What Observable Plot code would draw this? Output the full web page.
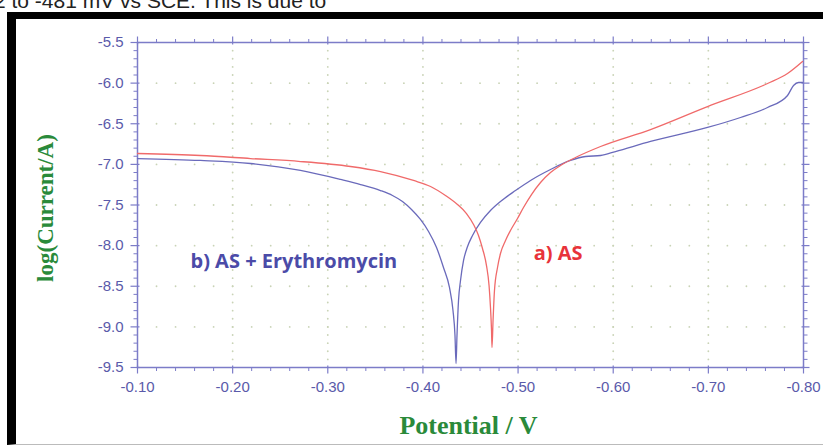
<!DOCTYPE html>
<html><head><meta charset="utf-8">
<script src="https://cdn.jsdelivr.net/npm/d3@7"></script>
<script src="https://cdn.jsdelivr.net/npm/@observablehq/plot@0.6"></script>
<style>
body{margin:0;background:#fff;width:823px;height:446px;overflow:hidden;position:relative;}
#chart{position:absolute;left:0;top:0;}
#frame{position:absolute;left:7px;top:12px;width:830px;height:425px;border-left:9px solid #000;border-top:7px solid #000;border-bottom:1px solid #bbb;pointer-events:none;}
#toptext{position:absolute;left:-6px;top:-10px;font:21px "Liberation Sans",Arial,sans-serif;color:#222;white-space:nowrap;line-height:1;}
</style></head><body>
<div id="toptext">2 to -481 mV vs SCE. This is due to</div>
<div id="chart"></div>
<div id="frame"></div>
<script>
// ---- data (Potential / V, log(Current/A)) ----
const potA = [-0.1000,-0.1662,-0.2188,-0.2713,-0.3239,-0.3554,-0.3901,-0.4080,-0.4237,-0.4363,-0.4458,-0.4532,-0.4584,-0.4626,-0.4668,-0.4695,-0.4710,-0.4721,-0.4726,-0.4737,-0.4752,-0.4784,-0.4815,-0.4868,-0.4920,-0.4994,-0.5057,-0.5141,-0.5236,-0.5341,-0.5446,-0.5604,-0.5867,-0.6392,-0.6991,-0.7622,-0.7832,-0.7990];
const logA = [-6.866,-6.891,-6.928,-6.965,-7.026,-7.088,-7.198,-7.272,-7.383,-7.494,-7.605,-7.740,-7.875,-8.035,-8.245,-8.491,-8.762,-9.045,-9.254,-8.922,-8.552,-8.269,-8.097,-7.937,-7.814,-7.666,-7.531,-7.371,-7.223,-7.100,-7.014,-6.915,-6.780,-6.571,-6.288,-6.005,-5.882,-5.734];
const potB = [-0.1000,-0.1662,-0.2188,-0.2713,-0.3134,-0.3344,-0.3554,-0.3680,-0.3785,-0.3880,-0.3974,-0.4059,-0.4143,-0.4216,-0.4279,-0.4316,-0.4337,-0.4348,-0.4358,-0.4374,-0.4395,-0.4427,-0.4469,-0.4521,-0.4605,-0.4710,-0.4815,-0.4973,-0.5131,-0.5341,-0.5551,-0.5709,-0.5867,-0.6024,-0.6392,-0.6991,-0.7338,-0.7622,-0.7832,-0.7895,-0.7948,-0.7990];
const logB = [-6.928,-6.952,-6.989,-7.075,-7.186,-7.248,-7.322,-7.383,-7.457,-7.555,-7.678,-7.826,-8.023,-8.269,-8.515,-8.798,-9.106,-9.451,-9.106,-8.675,-8.429,-8.183,-8.011,-7.875,-7.715,-7.568,-7.457,-7.322,-7.198,-7.063,-6.952,-6.903,-6.891,-6.842,-6.718,-6.546,-6.423,-6.300,-6.152,-6.029,-5.992,-5.992];
const seriesNames = ["a) AS", "b) AS + Erythromycin"];
const labelPos = [{x: -0.5164, y: -8.10}, {x: -0.1557, y: -8.20}];
const xTicks = [-0.10,-0.20,-0.30,-0.40,-0.50,-0.60,-0.70,-0.80];
const yTicks = [-5.5,-6.0,-6.5,-7.0,-7.5,-8.0,-8.5,-9.0,-9.5];
const xLabel = "Potential / V";
const yLabel = "log(Current/A)";

const A = potA.map((p,i)=>({p, v: logA[i]}));
const B = potB.map((p,i)=>({p, v: logB[i]}));

const xMin = d3.range(1,35).filter(i=>i%5!==0).map(i=>-0.1-i*0.02);
const yMin = d3.range(1,40).filter(i=>i%5!==0).map(i=>-5.5-i*0.1);
const xAll = d3.range(1,35).map(i=>-0.1-i*0.02);
const yAll = d3.range(1,40).map(i=>-5.5-i*0.1);
const gridH = d3.cross(xAll, yTicks.slice(1,-1)).map(([x,y])=>({x,y}));
const gridV = d3.cross(xTicks.slice(1,-1), yAll).map(([x,y])=>({x,y}));

const axisC = "#7c7cc8", labC = "#5a5aaa", green = "#2a8a3a";
const seg = (x1,y1,x2,y2) => ({draw(c){ c.moveTo(x1,y1); c.lineTo(x2,y2); }});
const tk = (data, xf, yf, sym, sw) => Plot.dot(data, {x: xf, y: yf, symbol: sym, stroke: axisC, fill: "none", strokeWidth: sw});

const chart = Plot.plot({
  width: 823, height: 446,
  marginLeft: 137, marginRight: 20, marginTop: 42, marginBottom: 79,
  x: {domain: [-0.1, -0.8], axis: null},
  y: {domain: [-9.5, -5.5], axis: null},
  style: {background: "transparent", overflow: "visible"},
  marks: [
    Plot.dot(gridH, {x: "x", y: "y", r: 0.9, fill: "#c9d3b6", stroke: "none"}),
    Plot.dot(gridV, {x: "x", y: "y", r: 0.9, fill: "#c9d3b6", stroke: "none"}),
    Plot.frame({stroke: axisC, strokeWidth: 1.5}),
    tk(xTicks, d=>d, -9.5, seg(0,-2,0,6), 1.2),
    tk(xMin, d=>d, -9.5, seg(0,0,0,3.5), 1),
    tk(xTicks, d=>d, -5.5, seg(0,-6,0,2), 1.2),
    tk(xMin, d=>d, -5.5, seg(0,-3.5,0,0), 1),
    tk(yTicks, -0.1, d=>d, seg(-7,0,2,0), 1.2),
    tk(yMin, -0.1, d=>d, seg(-4,0,0,0), 1),
    tk(yTicks, -0.8, d=>d, seg(-2,0,6,0), 1.2),
    tk(yMin, -0.8, d=>d, seg(0,0,4,0), 1),
    Plot.line(B, {x: "p", y: "v", stroke: "#6a6abb", strokeWidth: 1.3, curve: "monotone-x"}),
    Plot.line(A, {x: "p", y: "v", stroke: "#f06a6a", strokeWidth: 1.3, curve: "monotone-x"}),
    Plot.text(xTicks, {x: d=>d, y: -9.5, text: d=>d.toFixed(2), dy: 20, fill: labC, fontSize: 15, fontFamily: "Liberation Sans, Arial, sans-serif", lineAnchor: "middle"}),
    Plot.text(yTicks, {x: -0.1, y: d=>d, text: d=>d.toFixed(1), dx: -14, textAnchor: "end", fill: labC, fontSize: 15, fontFamily: "Liberation Sans, Arial, sans-serif", lineAnchor: "middle"}),
    Plot.text([seriesNames[0]], {x: labelPos[0].x, y: labelPos[0].y, textAnchor: "start", lineAnchor: "middle", fill: "#e8333a", fontSize: 20, fontWeight: "bold", fontFamily: "Open Sans, sans-serif", letterSpacing: 1}),
    Plot.text([seriesNames[1]], {x: labelPos[1].x, y: labelPos[1].y, textAnchor: "start", lineAnchor: "middle", fill: "#4b4ba8", fontSize: 20, fontWeight: "bold", fontFamily: "Open Sans, sans-serif", letterSpacing: 1}),
    Plot.text([xLabel], {frameAnchor: "bottom", textAnchor: "middle", dx: -2, dy: 58, lineAnchor: "middle", fill: green, fontSize: 26, fontWeight: "bold", fontFamily: "Liberation Serif, Times New Roman, serif"}),
    Plot.text([yLabel], {frameAnchor: "left", textAnchor: "middle", dx: -92, dy: 3, rotate: -90, lineAnchor: "middle", fill: green, fontSize: 23, fontWeight: "bold", fontFamily: "Liberation Serif, Times New Roman, serif"})
  ]
});
document.getElementById("chart").appendChild(chart);
</script>
</body></html>
